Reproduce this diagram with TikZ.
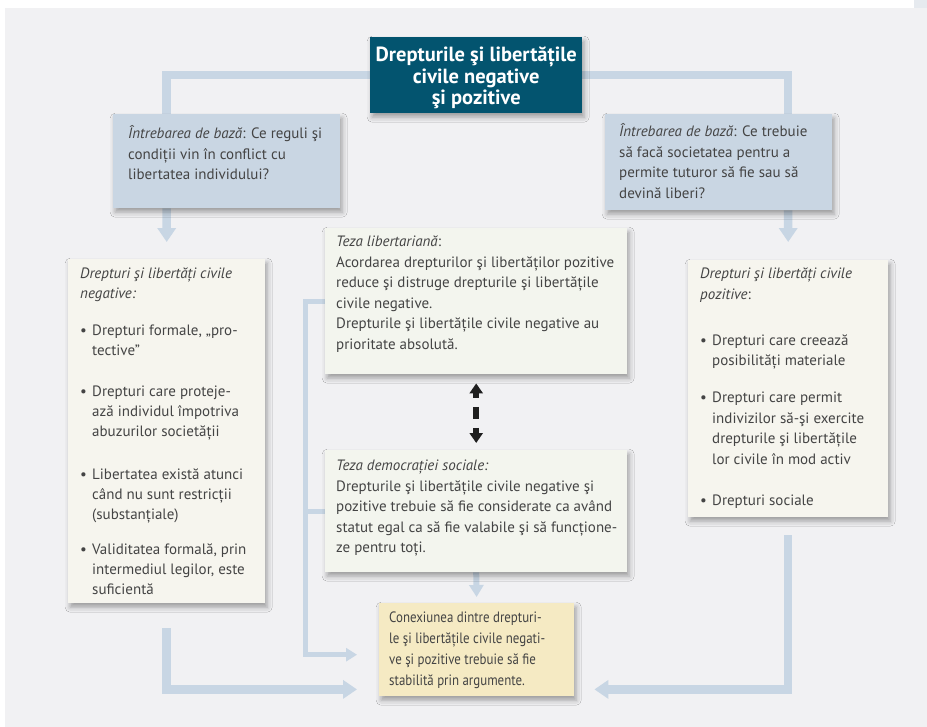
\documentclass[tikz,border=0pt]{standalone}
\usepackage{fontspec}
\setmainfont{PT Sans}
\newfontfamily\condfont{PT Sans}[FakeStretch=0.86]
\usetikzlibrary{arrows.meta,calc,shadows.blur}

\definecolor{bgc}{HTML}{F1F1F3}
\definecolor{cornerc}{HTML}{E6EAEF}
\definecolor{linkc}{HTML}{C8D6E4}
\definecolor{questc}{HTML}{C9D6E3}
\definecolor{titlec}{HTML}{03546F}
\definecolor{sidec}{HTML}{F6F5EE}
\definecolor{midc}{HTML}{F3F5EE}
\definecolor{concc}{HTML}{F5EAC3}
\definecolor{ink}{HTML}{444444}

\pgfdeclarelayer{links}
\pgfsetlayers{links,main}

% strut fixing the first baseline 14bp under the top of a text block
\newcommand\firstline{\rule{0pt}{14bp}}
\newcommand\bitem{\makebox[12bp][l]{\textbullet}}
\newcommand\bcont{\hspace*{12bp}}

\begin{document}
\begin{tikzpicture}[x=1bp,y=-1bp,
  panel/.style 2 args={minimum width=#1bp, minimum height=#2bp, anchor=north west,
    inner sep=0pt, draw=none,
    blur shadow={shadow xshift=2bp, shadow yshift=-4bp, shadow blur radius=5bp, shadow opacity=35}},
  headbox/.style={fill=titlec},
  quest/.style={fill=questc},
  side/.style={fill=sidec},
  mid/.style={fill=midc},
  conc/.style={fill=concc},
  body/.style={anchor=north west, inner sep=0pt, align=left, text=ink,
    font=\fontsize{15bp}{20.5bp}\selectfont},
  condbody/.style={anchor=north west, inner sep=0pt, align=left, text=ink,
    font=\condfont\fontsize{15bp}{21bp}\selectfont},
  headtext/.style={text=white, align=center, inner sep=0pt,
    font=\bfseries\fontsize{20.5bp}{21.5bp}\selectfont},
  link/.style={draw=linkc, line width=8.5bp},
  linkarrow/.style={link, -{Triangle[width=18bp,length=14bp]}},
  smallarrow/.style={draw=linkc, line width=6bp, -{Triangle[width=14bp,length=12bp]}},
  bracket/.style={draw=linkc, line width=5bp},
  bracketarrow/.style={bracket, -{Triangle[width=13bp,length=11bp]}},
  dasharrow/.style={draw=black!88, line width=6bp,
    {Triangle[width=13bp,length=10bp]}-{Triangle[width=13bp,length=10bp]},
    dash pattern=on 5bp off 9bp on 12bp off 9bp on 5bp off 60bp}
]
\useasboundingbox (0,0) rectangle (927,727);

% title
\node[panel={212}{76}, headbox] (title) at (370,37) {};
\node[headtext] (titlet) at ($(title.center)+(0,3)$) {Drepturile şi libertățile\\civile negative\\şi pozitive};

% guiding questions
\node[panel={227}{94}, quest] (qL) at (113,114) {};
\node[body] (qLt) at ($(qL.north west)+(15,10.5)$)
  {\firstline\textit{Întrebarea de bază}: Ce reguli şi\\condiții vin în conflict cu\\libertatea individului?};
\node[panel={227}{96}, quest] (qR) at (605,114) {};
\node[body] (qRt) at ($(qR.north west)+(14,8.5)$)
  {\firstline\textit{Întrebarea de bază}: Ce trebuie\\să facă societatea pentru a\\permite tuturor să fie sau să\\devină liberi?};

% negative rights
\node[panel={197}{344}, side] (nL) at (68,259) {};
\node[body, font=\fontsize{15bp}{20bp}\selectfont] (nLt) at ($(nL.north west)+(12,5)$)
  {\firstline\textit{Drepturi şi libertăți civile}\\\textit{negative:}\\[17bp]
   \bitem Drepturi formale, „pro-\\\bcont tective”\\[21bp]
   \bitem Drepturi care proteje-\\\bcont ază individul împotriva\\\bcont abuzurilor societății\\[23bp]
   \bitem Libertatea există atunci\\\bcont când nu sunt restricții\\\bcont (substanțiale)\\[15bp]
   \bitem Validitatea formală, prin\\\bcont intermediul legilor, este\\\bcont suficientă};

% positive rights
\node[panel={200}{257}, side] (pR) at (688,260) {};
\node[body] (pRt) at ($(pR.north west)+(12,4.5)$)
  {\firstline\textit{Drepturi şi libertăți civile}\\\textit{pozitive}:\\[25.5bp]
   \bitem Drepturi care creează\\\bcont posibilități materiale\\[16.5bp]
   \bitem Drepturi care permit\\\bcont indivizilor să-şi exercite\\\bcont drepturile şi libertățile\\\bcont lor civile în mod activ\\[20.5bp]
   \bitem Drepturi sociale};

% the two theses
\node[panel={302}{146}, mid] (lib) at (325,228) {};
\node[body] (libt) at ($(lib.north west)+(11,4.5)$)
  {\firstline\textit{Teza libertariană}:\\Acordarea drepturilor şi libertăților pozitive\\reduce şi distruge drepturile şi libertățile\\civile negative.\\Drepturile şi libertățile civile negative au\\prioritate absolută.};
\node[panel={302}{122}, mid] (dem) at (325,450) {};
\node[body] (demt) at ($(dem.north west)+(11,6.5)$)
  {\firstline\textit{Teza democrației sociale:}\\Drepturile şi libertățile civile negative şi\\pozitive trebuie să fie considerate ca având\\statut egal ca să fie valabile şi să funcțione-\\ze pentru toți.};

% conclusion
\node[panel={195}{93}, conc] (Y) at (379,603) {};
\node[condbody] (Yt) at ($(Y.north west)+(10,5.5)$)
  {\firstline Conexiunea dintre drepturi-\\le şi libertățile civile negati-\\ve şi pozitive trebuie să fie\\stabilită prin argumente.};

\coordinate (brk) at (305,0);

\begin{pgfonlayer}{links}
  % page ground
  \fill[bgc] (5,8) rectangle (927,727);
  \fill[cornerc] (914,0) rectangle (927,8);
  % connectors
  \draw[link] (title.west) -| ($(qL.north)+(-60,0)$);
  \draw[link] (title.east) -| ($(qR.north)+(69.5,0)$);
  \draw[linkarrow, shorten >=17bp] ($(qL.south)+(-60,0)$) -- (nL.north);
  \draw[linkarrow, shorten >=18bp] ($(qR.south)+(69.5,0)$) -- (pR.north);
  \draw[linkarrow] ($(nL.south)+(0,25)$) |- ($(Y.south west)+(-22,-7)$);
  \draw[linkarrow] ($(pR.south)+(0,18)$) |- ($(Y.south east)+(20,-7)$);
  \draw[smallarrow, shorten >=6bp] (dem.south) -- (Y.north);
  \draw[bracketarrow] (lib.west) -- (lib.west -| brk) |- ($(Y.west)+(-22,5)$);
  \draw[bracket] (dem.west) -- (dem.west -| brk);
\end{pgfonlayer}
\draw[dasharrow, shorten <=9bp, shorten >=7bp] (lib.south) -- (dem.north);
\end{tikzpicture}
\end{document}
